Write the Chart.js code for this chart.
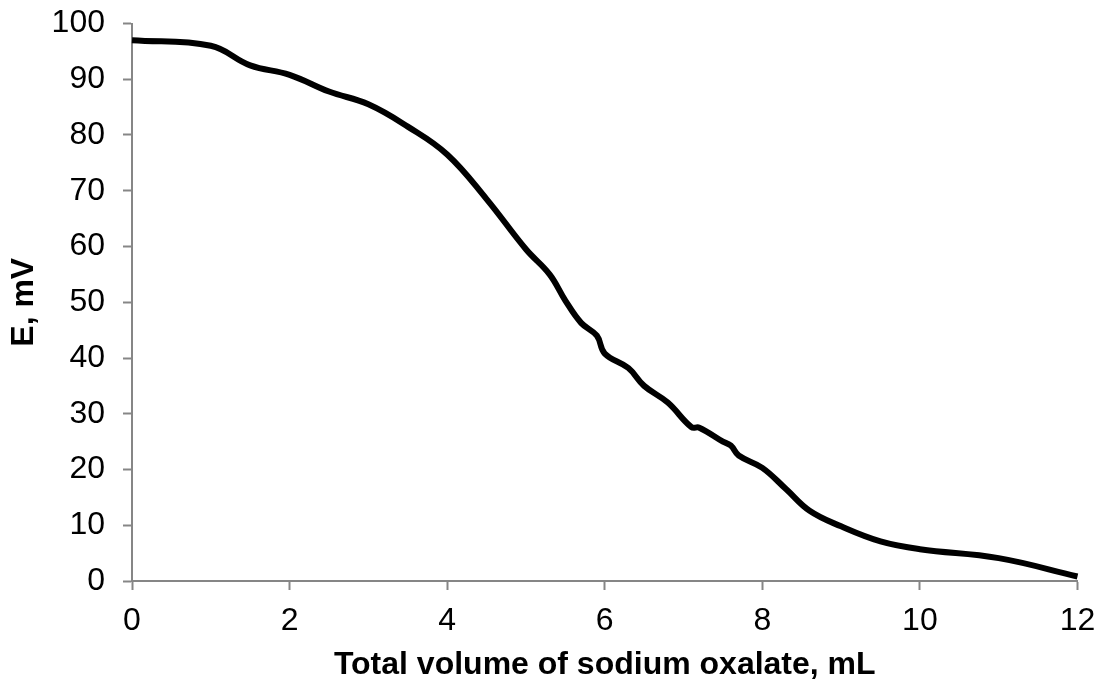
<!DOCTYPE html>
<html>
<head>
<meta charset="utf-8">
<script src="https://cdn.jsdelivr.net/npm/chart.js@4"></script>
<style>
  html, body { margin: 0; padding: 0; background: #fff; }
  #wrap { width: 1102px; height: 684px; }
</style>
</head>
<body>
<div id="wrap"><canvas id="titration"></canvas></div>
<script>
// Titration curve data
const volumes = [0, 1, 1.5, 2, 2.5, 3, 3.5, 4, 4.5, 5, 5.3, 5.5, 5.7, 5.9, 6, 6.3, 6.5, 6.8, 7.1, 7.2, 7.5, 7.6, 7.7, 8, 8.3, 8.6, 9, 9.5, 10, 11, 12];
const potentials = [97, 96, 92.5, 90.8, 87.8, 85.5, 81.5, 76.5, 68.5, 59.5, 55, 50.3, 46.3, 44, 40.8, 38.2, 35, 32, 27.6, 27.5, 25, 24.3, 22.5, 20.3, 16.5, 12.6, 9.8, 7.1, 5.7, 4.1, 0.8];

const xTicks = [0, 2, 4, 6, 8, 10, 12];
const yTicks = [0, 10, 20, 30, 40, 50, 60, 70, 80, 90, 100];

const xTitle = 'Total volume of sodium oxalate, mL';
const yTitle = 'E, mV';

const axisGray = '#868686';
const fontFamily = '"Liberation Sans", Arial, sans-serif';

document.addEventListener('DOMContentLoaded', () => {
    const ctx = document.getElementById('titration').getContext('2d');

    new Chart(ctx, {
        type: 'line',
        data: {
            datasets: [{
                data: volumes.map((v, i) => ({ x: v, y: potentials[i] })),
                borderColor: '#000',
                borderWidth: 6,
                pointRadius: 0,
                tension: 0.4,
                fill: false,
                clip: false
            }]
        },
        options: {
            responsive: true,
            maintainAspectRatio: false,
            animation: false,
            layout: { padding: { left: 0, top: 23.5, right: 24.5, bottom: 0 } },
            plugins: {
                legend: { display: false },
                tooltip: { enabled: false }
            },
            scales: {
                x: {
                    type: 'linear',
                    min: 0,
                    max: 12,
                    afterBuildTicks: scale => { scale.ticks = xTicks.map(v => ({ value: v })); },
                    afterFit: scale => {
                        scale.height = 103;
                        // label overhang handled by layout padding instead
                        scale.paddingLeft = 0;
                        scale.paddingRight = 0;
                    },
                    border: { color: axisGray, width: 2 },
                    grid: { drawOnChartArea: false, drawTicks: true, tickLength: 9, tickWidth: 2, color: axisGray },
                    ticks: { color: '#000', padding: 12, font: { family: fontFamily, size: 32 } },
                    title: {
                        display: true,
                        text: xTitle,
                        color: '#000',
                        padding: { top: 0, bottom: 0 },
                        font: { family: fontFamily, size: 32, weight: 'bold' }
                    }
                },
                y: {
                    min: 0,
                    max: 100,
                    afterBuildTicks: scale => { scale.ticks = yTicks.map(v => ({ value: v })); },
                    afterFit: scale => {
                        scale.width = 132;
                        scale.paddingTop = 0;
                        scale.paddingBottom = 0;
                    },
                    border: { color: axisGray, width: 2 },
                    grid: { drawOnChartArea: false, drawTicks: true, tickLength: 9, tickWidth: 2, color: axisGray },
                    ticks: { color: '#000', padding: 18, font: { family: fontFamily, size: 32 } },
                    title: {
                        display: true,
                        text: yTitle,
                        color: '#000',
                        padding: { top: 5, bottom: 0 },
                        font: { family: fontFamily, size: 32, weight: 'bold' }
                    }
                }
            }
        }
    });
});
</script>
</body>
</html>
